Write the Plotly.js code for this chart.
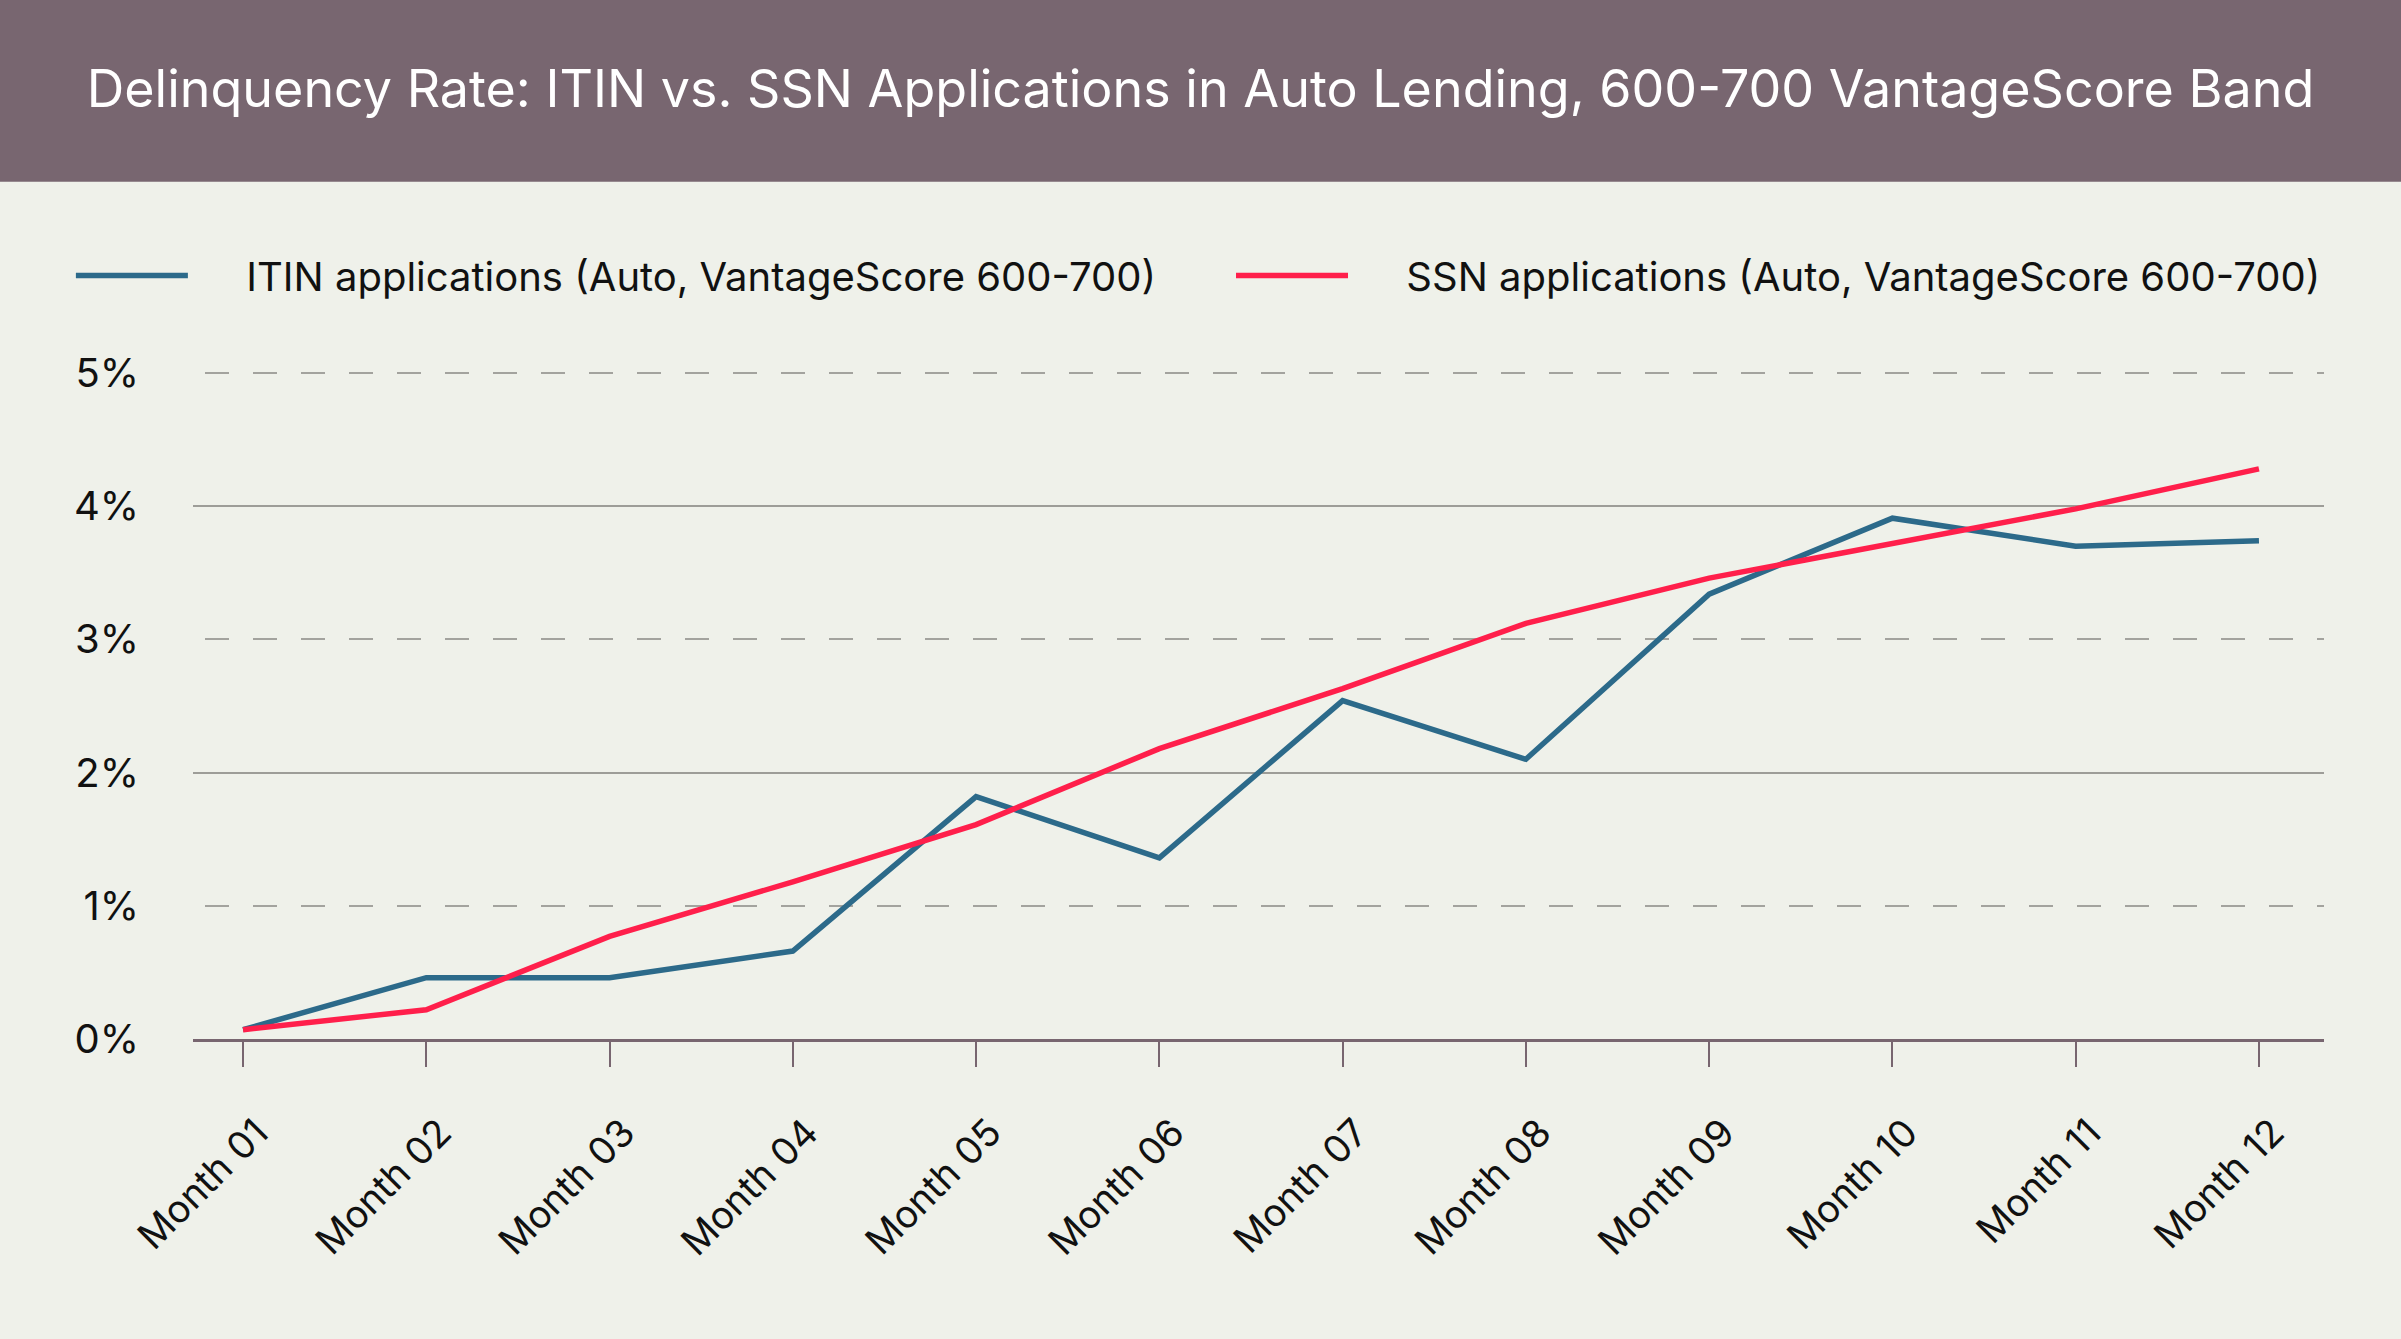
<!DOCTYPE html>
<html>
<head>
<meta charset="utf-8">
<script src="https://cdn.plot.ly/plotly-3.0.1.min.js"></script>
<style>
  html, body { margin: 0; padding: 0; background: #eff1ea; }
  #chart { width: 2401px; height: 1339px; }
</style>
</head>
<body>
<div id="chart"></div>
<script>
// months on the x axis
let months = ['Month 01', 'Month 02', 'Month 03', 'Month 04', 'Month 05', 'Month 06',
              'Month 07', 'Month 08', 'Month 09', 'Month 10', 'Month 11', 'Month 12'];

// delinquency rate in percent
let itinRate = [0.07, 0.46, 0.46, 0.66, 1.82, 1.36, 2.54, 2.10, 3.34, 3.91, 3.70, 3.74];
let ssnRate = [0.07, 0.22, 0.77, 1.18, 1.61, 2.18, 2.63, 3.12, 3.46, 3.72, 3.98, 4.28];

// y ticks, the solid gridlines are every other one
let yTicks = [0, 1, 2, 3, 4, 5];
let yTickText = ['0%', '1%', '2%', '3%', '4%', '5%'];
let solidTicks = [2, 4];

let font = 'Inter, "Open Sans", sans-serif';

// em + three-per-em space in front of the names for the gap after the legend line
let gap = '\u2003\u2004';

let trace1 = {
    x: months,
    y: itinRate,
    type: 'scatter',
    mode: 'lines',
    name: gap + 'ITIN applications (Auto, VantageScore 600-700)',
    line: {color: '#2c6a8a', width: 5.5},
    legend: 'legend'
};

// second trace sits on the overlay axis that carries the solid gridlines
let trace2 = {
    x: months,
    y: ssnRate,
    yaxis: 'y2',
    type: 'scatter',
    mode: 'lines',
    name: gap + 'SSN applications (Auto, VantageScore 600-700)',
    line: {color: '#ff1f4b', width: 5.5},
    legend: 'legend2'
};

let data = [trace1, trace2];

let legendFont = {family: font, size: 40, color: '#111111'};

let layout = {
    width: 2401,
    height: 1339,
    margin: {l: 193, r: 77, t: 332.5, b: 300},
    paper_bgcolor: '#eff1ea',
    plot_bgcolor: '#eff1ea',
    font: {family: font, color: '#111111', size: 40},
    title: {
        text: 'Delinquency Rate: ITIN vs. SSN Applications in Auto Lending, 600-700 VantageScore Band',
        font: {family: font, size: 52, color: '#ffffff'},
        x: 0.5, xref: 'container', xanchor: 'center',
        y: 0.934, yref: 'container', yanchor: 'middle'
    },
    // title band
    shapes: [{
        type: 'rect', xref: 'paper', yref: 'paper',
        x0: -0.2, x1: 1.2, y0: 1.2144, y1: 2,
        fillcolor: '#786670', line: {width: 0}, layer: 'below'
    }],
    legend: {
        orientation: 'h',
        x: -0.0573, xanchor: 'left',
        y: 1.0814, yanchor: 'middle',
        font: legendFont,
        itemwidth: 112,
        bgcolor: 'rgba(0,0,0,0)'
    },
    legend2: {
        orientation: 'h',
        x: 0.4871, xanchor: 'left',
        y: 1.0814, yanchor: 'middle',
        font: legendFont,
        itemwidth: 112,
        bgcolor: 'rgba(0,0,0,0)'
    },
    xaxis: {
        type: 'category',
        range: [-0.273, 11.355],
        showline: true, linecolor: '#786670', linewidth: 3,
        ticks: 'outside', ticklen: 25, tickwidth: 2, tickcolor: '#786670',
        tickangle: -45,
        ticklabelshift: 14,
        ticklabelstandoff: 28,
        tickfont: {family: font, size: 38, color: '#111111'},
        showgrid: false, zeroline: false
    },
    yaxis: {
        range: [0, 5.3],
        tickvals: yTicks, ticktext: yTickText,
        showgrid: true, gridcolor: '#a3a39e', gridwidth: 2,
        griddash: '0px,12px,24px,12px',
        zeroline: false, showline: false, ticks: '',
        ticklabelstandoff: 53,
        tickfont: {family: font, size: 40, color: '#111111'}
    },
    yaxis2: {
        overlaying: 'y',
        range: [0, 5.3],
        tickvals: solidTicks,
        showticklabels: false,
        showgrid: true, gridcolor: '#9d9d98', gridwidth: 2,
        zeroline: false, showline: false, ticks: ''
    },
    showlegend: true
};

Plotly.newPlot('chart', data, layout, {displayModeBar: false});
</script>
</body>
</html>
